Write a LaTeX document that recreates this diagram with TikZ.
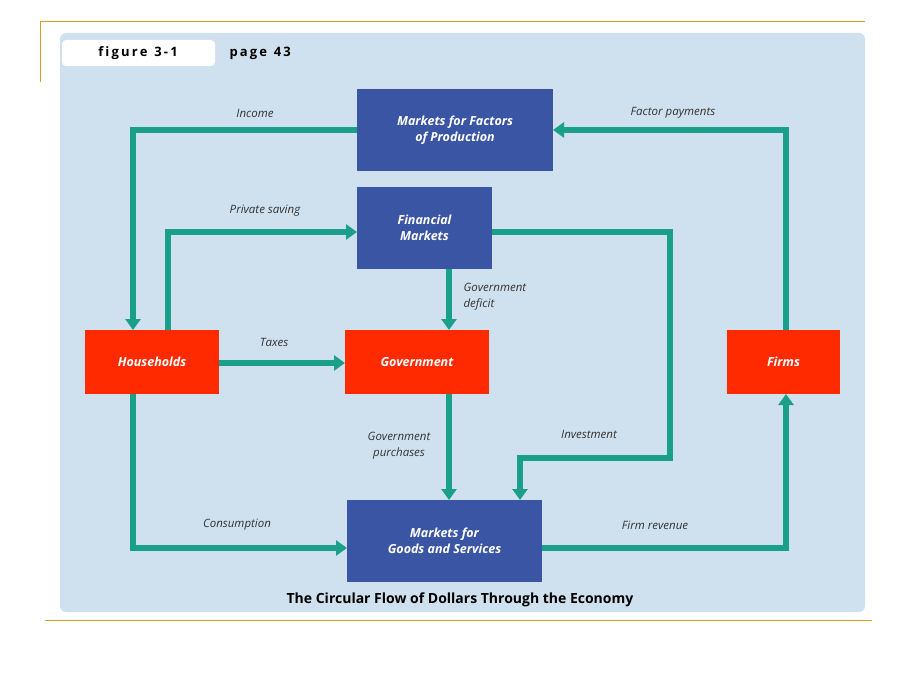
\documentclass[tikz,border=0pt]{standalone}
\usepackage{fontspec}
\setmainfont{Open Sans}
\usetikzlibrary{arrows.meta}
\definecolor{gold}{HTML}{D4A017}
\definecolor{panel}{HTML}{CFE1EE}
\definecolor{bbox}{HTML}{3B55A5}
\definecolor{rbox}{HTML}{FF2A00}
\definecolor{teal}{HTML}{1AA08A}
\begin{document}
\begin{tikzpicture}[x=1pt,y=-1pt,
  box/.style={draw=none,inner sep=0,font=\bfseries\itshape\fontsize{12.5}{16}\selectfont,text=white,align=center},
  flow/.style={teal,line width=5.5pt,-{Triangle[length=11pt,width=15pt]}},
  lab/.style={font=\itshape\fontsize{11.5}{16}\selectfont,text=black!80,align=left}]
\useasboundingbox (0,0) rectangle (920,690);
\fill[white] (0,0) rectangle (920,690);
\draw[gold,line width=1pt] (40,22) -- (865,22);
\draw[gold,line width=1pt] (40,22) -- (40,82);
\draw[gold,line width=1pt] (45,620) -- (872,620);
\fill[panel,rounded corners=6pt] (60,33) rectangle (865,612);
\fill[white,rounded corners=4pt] (62,40) rectangle (215,66);
\node[font=\bfseries\fontsize{13}{15}\selectfont] (fig) at (138,53) {f\,i\,g\,u\,r\,e\ \ 3\,-\,1};
\node[font=\bfseries\fontsize{13}{15}\selectfont,anchor=west] (pg) at (226,53) {p\,a\,g\,e\ \ 4\,3};
\fill[bbox] (357,89) rectangle (553,171); \node[box] (mfp) at (455,130) {Markets for Factors\\of Production};
\fill[bbox] (357,187) rectangle (492,269); \node[box] (fm) at (424.5,228) {Financial\\Markets};
\fill[rbox] (85,330) rectangle (219,394); \node[box] (hh) at (152,362) {Households};
\fill[rbox] (345,330) rectangle (489,394); \node[box] (gov) at (417,362) {Government};
\fill[rbox] (727,330) rectangle (840,394); \node[box] (firms) at (783.5,362) {Firms};
\fill[bbox] (347,500) rectangle (542,582); \node[box] (mg) at (444.5,541) {Markets for\\Goods and Services};
\coordinate (mfpL) at (357,130); \coordinate (mfpR) at (553,130);
\coordinate (fmL) at (357,232); \coordinate (fmR) at (492,232); \coordinate (fmB) at (449,269);
\coordinate (hhT1) at (133,330); \coordinate (hhT2) at (168,330); \coordinate (hhR) at (219,363); \coordinate (hhB) at (133,394);
\coordinate (govL) at (345,363); \coordinate (govT) at (449,330); \coordinate (govB) at (449,394);
\coordinate (fiT) at (786,330); \coordinate (fiB) at (786,394);
\coordinate (mgL) at (347,548); \coordinate (mgR) at (542,548); \coordinate (mgT1) at (449,500); \coordinate (mgT2) at (520,500);
\draw[flow] (mfpL) -- (133,130) -- (hhT1);
\draw[flow] (fiT) -- (786,130) -- (mfpR);
\draw[flow] (hhT2) -- (168,232) -- (fmL);
\draw[flow] (fmB) -- (govT);
\draw[flow] (hhR) -- (govL);
\draw[flow] (govB) -- (mgT1);
\draw[flow] (fmR) -- (670,232) -- (670,458) -- (520,458) -- (mgT2);
\draw[flow] (hhB) -- (133,548) -- (mgL);
\draw[flow] (mgR) -- (786,548) -- (fiB);
\node[lab] (l1) at (255,113) {Income};
\node[lab] (l2) at (673,113) {Factor payments};
\node[lab] (l3) at (265,211) {Private saving};
\node[lab,anchor=west] (l4) at (460,297) {Government\\deficit};
\node[lab] (l5) at (274,342) {Taxes};
\node[lab,align=center] (l6) at (399,446) {Government\\purchases};
\node[lab] (l7) at (589,434) {Investment};
\node[lab] (l8) at (237,525) {Consumption};
\node[lab] (l9) at (655,525) {Firm revenue};
\node[font=\bfseries\fontsize{14}{16}\selectfont] (title) at (460,600) {The Circular Flow of Dollars Through the Economy};
\end{tikzpicture}
\end{document}
